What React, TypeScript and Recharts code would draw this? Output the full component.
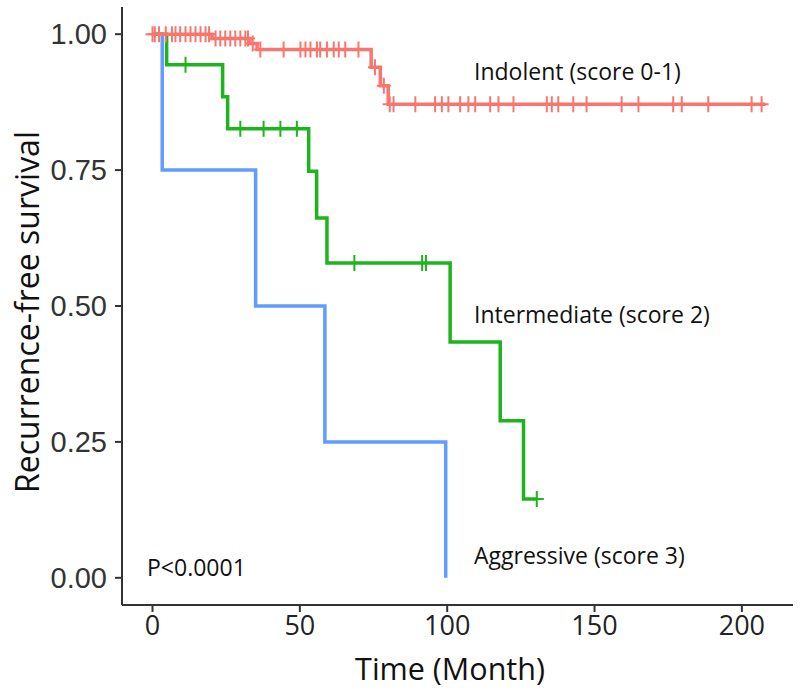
import React from "react";
import {
  ComposedChart,
  Line,
  Scatter,
  XAxis,
  YAxis,
} from "recharts";

// Kaplan-Meier steps (time in months, survival fraction)
const indolentTimes = [0, 20.2, 33, 35.5, 74.2, 77.3, 80, 208];
const indolentSurv = [1, 0.992, 0.983, 0.972, 0.939, 0.905, 0.871, 0.871];
const indolentCensor = [
  0, 0.8, 2.2, 4.5, 6.6, 7.8, 9.4, 11.2, 12.9, 14.6, 16.3, 18, 19.2,
  21.4, 23, 24.7, 26.4, 28.1, 29.8, 31.5, 32.4, 34,
  36.6, 44.5, 50.2, 51.9, 53.6, 55.8, 56.9, 59.2, 61.5, 63.2, 65.4, 69.9,
  75.5, 78.5, 80.5, 81.8, 89.2, 95.9, 98.2, 100.4, 104.4, 107.2, 109.5,
  114.6, 117.4, 122.5, 133.8, 135.5, 137.7, 142.8, 147.3, 159.2, 164.9,
  176.7, 179.6, 188.6, 203.3, 206.7,
];

const intermediateTimes = [0, 4.8, 23.8, 25.5, 53, 55.7, 59.2, 101, 118, 125.9, 130.4];
const intermediateSurv = [1, 0.944, 0.885, 0.826, 0.748, 0.662, 0.579, 0.434, 0.289, 0.145, 0.145];
const intermediateCensor = [11.2, 29.8, 37.7, 43.4, 49, 68.5, 91.5, 92.8, 130.4];

const aggressiveTimes = [0, 3.3, 35, 58.5, 99.5];
const aggressiveSurv = [1, 0.75, 0.5, 0.25, 0];

const xTicks = [0, 50, 100, 150, 200];
const yTicks = [0, 0.25, 0.5, 0.75, 1];

const RED = "#F8766D";
const GREEN = "#1DB41D";
const BLUE = "#619CFF";

const toSteps = (times: number[], surv: number[]) =>
  times.map((t, i) => ({ t, s: surv[i] }));

// survival value of the step curve at a censoring time
const atTime = (times: number[], surv: number[], t: number) => {
  let s = surv[0];
  times.forEach((tt, i) => {
    if (tt <= t) s = surv[i];
  });
  return s;
};

const toCensor = (censor: number[], times: number[], surv: number[]) =>
  censor.map((t) => ({ t, s: atTime(times, surv, t) }));

const plusShape = (color: string) => (props: any) => {
  const { cx, cy } = props;
  return (
    <path
      d={`M${cx - 7},${cy}h14M${cx},${cy - 8}v16`}
      stroke={color}
      strokeWidth={2}
      fill="none"
    />
  );
};

const textFont = "'Open Sans', sans-serif";

export default function App() {
  return (
    <div style={{ position: "absolute", left: 0, top: 0, background: "#fff" }}>
      <ComposedChart
        width={800}
        height={697}
        margin={{ top: 7, right: 7, bottom: 0, left: 0 }}
      >
        <XAxis
          dataKey="t"
          type="number"
          domain={[-10.35, 217.35]}
          ticks={xTicks}
          allowDataOverflow
          height={92}
          tickSize={7}
          tickMargin={4}
          axisLine={{ stroke: "#333", strokeWidth: 2 }}
          tickLine={{ stroke: "#333", strokeWidth: 2 }}
          tick={{ fill: "#222", fontSize: 27, fontFamily: textFont }}
        />
        <YAxis
          type="number"
          domain={[-0.05, 1.05]}
          ticks={yTicks}
          allowDataOverflow
          width={122}
          tickSize={7}
          tickMargin={8}
          tickFormatter={(v: number) => v.toFixed(2)}
          axisLine={{ stroke: "#333", strokeWidth: 2 }}
          tickLine={{ stroke: "#333", strokeWidth: 2 }}
          tick={{ fill: "#333", fontSize: 29, fontFamily: "'Liberation Sans', Arial, sans-serif" }}
        />
        <Line
          data={toSteps(aggressiveTimes, aggressiveSurv)}
          dataKey="s"
          type="stepAfter"
          stroke={BLUE}
          strokeWidth={3.5}
          dot={false}
          isAnimationActive={false}
        />
        <Line
          data={toSteps(intermediateTimes, intermediateSurv)}
          dataKey="s"
          type="stepAfter"
          stroke={GREEN}
          strokeWidth={3.5}
          dot={false}
          isAnimationActive={false}
        />
        <Line
          data={toSteps(indolentTimes, indolentSurv)}
          dataKey="s"
          type="stepAfter"
          stroke={RED}
          strokeWidth={3.5}
          dot={false}
          isAnimationActive={false}
        />
        <Scatter
          data={toCensor(intermediateCensor, intermediateTimes, intermediateSurv)}
          dataKey="s"
          shape={plusShape(GREEN)}
          isAnimationActive={false}
        />
        <Scatter
          data={toCensor(indolentCensor, indolentTimes, indolentSurv)}
          dataKey="s"
          shape={plusShape(RED)}
          isAnimationActive={false}
        />
        <text x={474} y={80} fontSize={23} fontFamily={textFont} fill="#111">
          Indolent (score 0-1)
        </text>
        <text x={474} y={323} fontSize={23} fontFamily={textFont} fill="#111">
          Intermediate (score 2)
        </text>
        <text x={474} y={564} fontSize={23} fontFamily={textFont} fill="#111">
          Aggressive (score 3)
        </text>
        <text x={147} y={576} fontSize={23} fontFamily={textFont} fill="#111">
          P&lt;0.0001
        </text>
        <text
          x={450}
          y={680}
          fontSize={30.5}
          textAnchor="middle"
          fontFamily={textFont}
          fill="#111"
        >
          Time (Month)
        </text>
        <text
          transform="translate(39,312) rotate(-90)"
          fontSize={32}
          textAnchor="middle"
          fontFamily={textFont}
          fill="#111"
        >
          Recurrence-free survival
        </text>
      </ComposedChart>
    </div>
  );
}
